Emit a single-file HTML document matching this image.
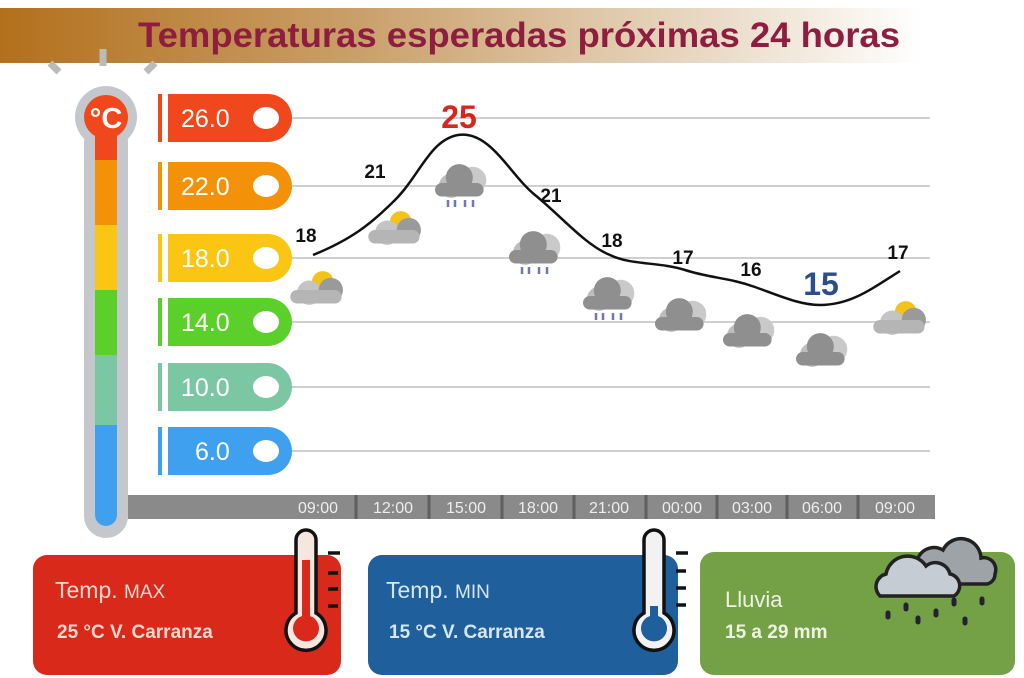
<!DOCTYPE html>
<html><head><meta charset="utf-8"><style>
html,body{margin:0;padding:0;background:#fff;}
svg{display:block;font-family:"Liberation Sans",sans-serif;}
</style></head><body>
<svg width="1024" height="678" viewBox="0 0 1024 678" xmlns="http://www.w3.org/2000/svg">
<defs>
<linearGradient id="hb" x1="0" x2="1" y1="0" y2="0">
<stop offset="0" stop-color="#b3701c"/><stop offset="0.35" stop-color="#c9a06a"/><stop offset="0.7" stop-color="#eadbc8"/><stop offset="0.9" stop-color="#fff"/>
</linearGradient>
<g id="cl0"><circle cx="-8" cy="2" r="9" fill="#bdbdbd"/><circle cx="8" cy="-2" r="10" fill="#c9c9c9"/><circle cx="-2" cy="-4" r="10" fill="#8f8f8f"/><rect x="-20" y="0" width="36" height="10" rx="5" fill="#8f8f8f"/></g>
<g id="cl"><use href="#cl0" transform="scale(1.35)"/></g>
<g id="rn"><use href="#cl0" transform="scale(1.35)"/><path d="M-14 17v7M-7 17v7M3 17v7M11 17v7" stroke="#6f79b8" stroke-width="2.5"/></g>
<g id="sn" transform="scale(1.35)"><circle cx="2" cy="-6" r="8" fill="#f3c21b"/><circle cx="-8" cy="2" r="9" fill="#c4c4c4"/><circle cx="8" cy="0" r="9" fill="#9a9a9a"/><rect x="-22" y="0" width="38" height="10" rx="5" fill="#b5b5b5"/></g>
</defs>
<rect x="0" y="8" width="1024" height="55" fill="url(#hb)"/>
<text x="138" y="47" font-size="35" font-weight="bold" fill="#8e1d40" textLength="762" lengthAdjust="spacingAndGlyphs">Temperaturas esperadas próximas 24 horas</text>
<path d="M50 63 l9 9 M103 49 v17 M155 63 l-9 9" stroke="#bbb" stroke-width="7"/>
<rect x="84" y="120" width="44" height="418" rx="22" fill="#c4c8cc"/>
<circle cx="106" cy="117" r="31" fill="#c4c8cc"/>
<circle cx="106" cy="117" r="22" fill="#f0481c"/>
<text x="106" y="128" font-size="29" fill="#fff" text-anchor="middle" font-weight="bold">°C</text>
<rect x="95" y="135" width="22" height="25" fill="#f0481c"/>
<rect x="95" y="160" width="22" height="65" fill="#f39208"/>
<rect x="95" y="225" width="22" height="65" fill="#fac513"/>
<rect x="95" y="290" width="22" height="65" fill="#5bcf2a"/>
<rect x="95" y="355" width="22" height="70" fill="#7cc7a3"/>
<path d="M95 425h22v90a11 11 0 0 1-22 0z" fill="#3ea0ee"/>
<g stroke="#cfcfcf" stroke-width="2">
<line x1="290" x2="930" y1="118" y2="118"/><line x1="290" x2="930" y1="186" y2="186"/><line x1="290" x2="930" y1="258" y2="258"/>
<line x1="290" x2="930" y1="322" y2="322"/><line x1="290" x2="930" y1="387" y2="387"/><line x1="290" x2="930" y1="451" y2="451"/>
</g>
<g font-size="25" fill="#fff">
<g fill="#f0481c"><rect x="158" y="94" width="4" height="48"/><path d="M168 94h100a24 24 0 0 1 0 48h-100z"/></g>
<g fill="#f39208"><rect x="158" y="162" width="4" height="48"/><path d="M168 162h100a24 24 0 0 1 0 48h-100z"/></g>
<g fill="#fac513"><rect x="158" y="234" width="4" height="48"/><path d="M168 234h100a24 24 0 0 1 0 48h-100z"/></g>
<g fill="#5bcf2a"><rect x="158" y="298" width="4" height="48"/><path d="M168 298h100a24 24 0 0 1 0 48h-100z"/></g>
<g fill="#7cc7a3"><rect x="158" y="363" width="4" height="48"/><path d="M168 363h100a24 24 0 0 1 0 48h-100z"/></g>
<g fill="#3ea0ee"><rect x="158" y="427" width="4" height="48"/><path d="M168 427h100a24 24 0 0 1 0 48h-100z"/></g>
<g fill="#fff"><ellipse cx="266" cy="118" rx="13" ry="11"/><ellipse cx="266" cy="186" rx="13" ry="11"/><ellipse cx="266" cy="258" rx="13" ry="11"/><ellipse cx="266" cy="322" rx="13" ry="11"/><ellipse cx="266" cy="387" rx="13" ry="11"/><ellipse cx="266" cy="451" rx="13" ry="11"/></g>
<text x="181" y="127">26.0</text><text x="181" y="195">22.0</text><text x="181" y="267">18.0</text><text x="181" y="331">14.0</text><text x="181" y="396">10.0</text><text x="195" y="460">6.0</text>
</g>
<rect x="128" y="495" width="807" height="24" fill="#8a8a8a"/>
<g stroke="#5f5f5f" stroke-width="3"><line x1="356" x2="356" y1="495" y2="519"/><line x1="429" x2="429" y1="495" y2="519"/><line x1="502" x2="502" y1="495" y2="519"/><line x1="574" x2="574" y1="495" y2="519"/><line x1="646" x2="646" y1="495" y2="519"/><line x1="717" x2="717" y1="495" y2="519"/><line x1="787" x2="787" y1="495" y2="519"/><line x1="858" x2="858" y1="495" y2="519"/></g>
<g font-size="16" fill="#eee" text-anchor="middle">
<text x="318" y="513">09:00</text><text x="393" y="513">12:00</text><text x="466" y="513">15:00</text><text x="538" y="513">18:00</text><text x="609" y="513">21:00</text><text x="682" y="513">00:00</text><text x="752" y="513">03:00</text><text x="822" y="513">06:00</text><text x="895" y="513">09:00</text>
</g>
<g transform="translate(320,290)"><use href="#sn"/></g>
<g transform="translate(398,230)"><use href="#sn"/></g>
<use href="#rn" x="462" y="183"/><use href="#rn" x="536" y="250"/><use href="#rn" x="610" y="296"/>
<use href="#cl" x="682" y="317"/><use href="#cl" x="750" y="333"/><use href="#cl" x="823" y="352"/>
<g transform="translate(903,320)"><use href="#sn"/></g>
<path d="M313 255 C350 240,370 225,395 200 C420 175,430 140,458 135 C490 130,510 175,535 195 C560 215,585 245,610 255 C630 265,660 262,685 270 C710 278,730 278,755 287 C780 296,800 305,820 305 C850 305,870 290,900 271" fill="none" stroke="#111" stroke-width="2.5"/>
<g font-size="19" font-weight="bold" fill="#111" text-anchor="middle">
<text x="306" y="242">18</text><text x="375" y="178">21</text><text x="551" y="202">21</text><text x="612" y="247">18</text><text x="683" y="264">17</text><text x="751" y="276">16</text><text x="898" y="259">17</text>
</g>
<text x="459" y="128" font-size="32" font-weight="bold" fill="#d9261c" text-anchor="middle">25</text>
<text x="821" y="295" font-size="32" font-weight="bold" fill="#2b4e8c" text-anchor="middle">15</text>
<rect x="33" y="555" width="308" height="120" rx="14" fill="#d9291b"/>
<text x="55" y="598" font-size="23" fill="#f5d9cf">Temp. <tspan font-size="19">MAX</tspan></text>
<text x="57" y="638" font-size="19" font-weight="bold" fill="#f5d9cf">25 °C  V. Carranza</text>
<g transform="translate(306,0)"><path d="M-10 540a10 10 0 0 1 20 0v73a20 20 0 1 1-20 0z" fill="#f5e6e0" stroke="#111" stroke-width="3.5"/><path d="M-4 560h8v56a13 13 0 1 1-8 0z" fill="#d9291b"/><path d="M22 553h12M22 573h10M22 589h10M22 606h10" stroke="#111" stroke-width="3.5"/></g>
<rect x="368" y="555" width="310" height="120" rx="14" fill="#1f5f9c"/>
<text x="386" y="598" font-size="23" fill="#d6e6f4">Temp. <tspan font-size="19">MIN</tspan></text>
<text x="389" y="638" font-size="19" font-weight="bold" fill="#d6e6f4">15 °C  V. Carranza</text>
<g transform="translate(654,0)"><path d="M-10 540a10 10 0 0 1 20 0v73a20 20 0 1 1-20 0z" fill="#f2f2f2" stroke="#111" stroke-width="3.5"/><path d="M-4 606h8v10a13 13 0 1 1-8 0z" fill="#1f5f9c"/><path d="M22 553h12M22 571h10M22 588h10M22 605h10" stroke="#111" stroke-width="3.5"/></g>
<rect x="700" y="552" width="315" height="123" rx="14" fill="#74a046"/>
<text x="725" y="607" font-size="22" fill="#eef3df">Lluvia</text>
<text x="725" y="638" font-size="19" font-weight="bold" fill="#eef3df">15 a 29 mm</text>
<g stroke="#222" stroke-width="3.5">
<path d="M925 580a16 16 0 0 1 18-30a20 20 0 0 1 38 8a12 12 0 0 1 14 16a10 10 0 0 1-8 10h-55z" fill="#9ea3a8"/>
<path d="M880 596a13 13 0 0 1 6-22a22 22 0 0 1 40-8a15 15 0 0 1 24 8a12 12 0 0 1 4 22z" fill="#c5ccd4"/>
</g>
<g stroke="#223" stroke-width="5" stroke-linecap="round"><path d="M888 613v4M906 605v4M918 618v4M936 611v4M954 600v4M965 619v4M982 599v4"/></g>
</svg>
</body></html>
